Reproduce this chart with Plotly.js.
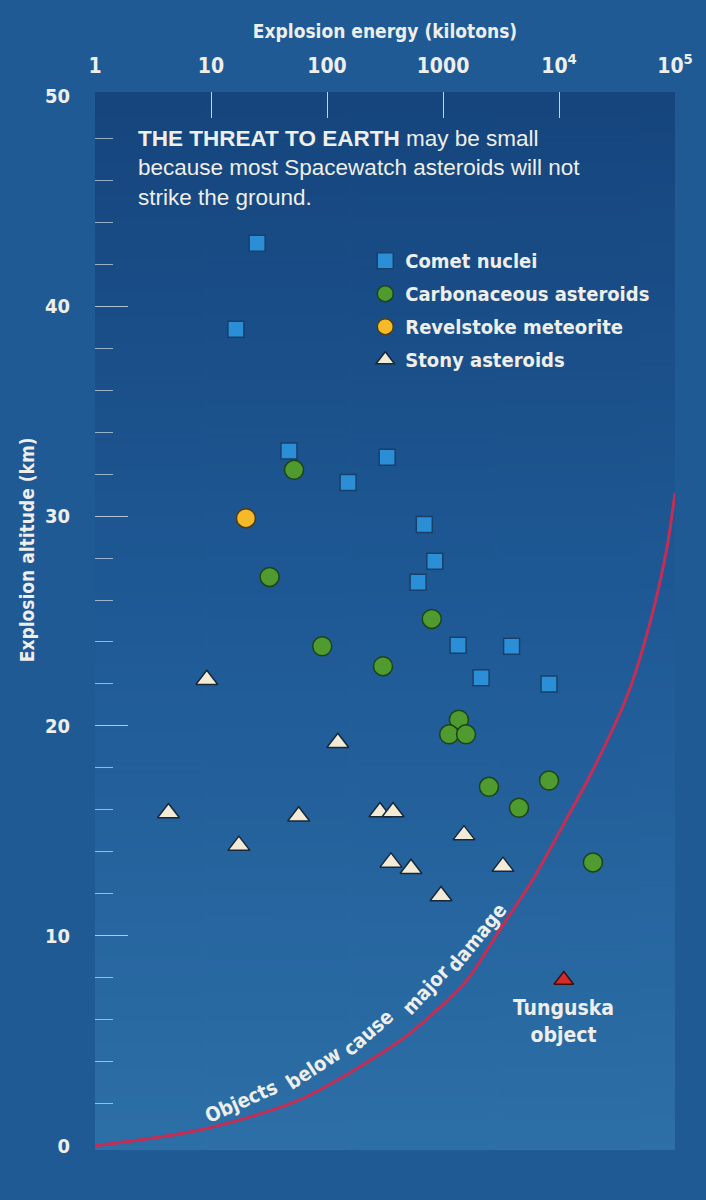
<!DOCTYPE html>
<html>
<head>
<meta charset="utf-8">
<script src="https://cdn.plot.ly/plotly-3.0.1.min.js"></script>
<style>html,body{margin:0;padding:0;background:#1f5a95;}#chart{width:706px;height:1200px;}</style>
</head>
<body>
<div id="chart"></div>
<script>
// ---- Data ----
const cometEnergy = [25, 16.4, 47, 330, 152, 690, 850, 610, 1350, 3900, 2130, 8200];
const cometAlt    = [43.0, 38.9, 33.1, 32.8, 31.6, 29.6, 27.85, 26.85, 23.85, 23.8, 22.3, 22.0];

const carbEnergy = [52, 32, 91, 304, 800, 1370, 1130, 1580, 2490, 4520, 8200, 19600];
const carbAlt    = [32.2, 27.1, 23.8, 22.85, 25.1, 20.3, 19.6, 19.6, 17.1, 16.1, 17.4, 13.5];

const revelEnergy = [20];
const revelAlt    = [29.9];

const stonyEnergy = [9.2, 124, 4.3, 57, 17.4, 286, 371, 356, 530, 961, 1517, 3290];
const stonyAlt    = [22.2, 19.2, 15.85, 15.7, 14.3, 15.9, 15.9, 13.5, 13.2, 11.9, 14.8, 13.3];

const tunguskaEnergy = [11000];
const tunguskaAlt    = [7.9];

const damageEnergy = [1, 8.0, 58.5, 426, 820, 1610, 3100, 5970, 11700, 19600, 38500, 60800, 85300, 100000];
const damageAlt    = [0, 0.75, 2.2, 5.0, 6.3, 7.9, 10.3, 12.7, 15.6, 17.9, 21.4, 24.9, 28.5, 31.1];

const xTickVals = [1, 10, 100, 1000, 10000, 100000];
const xTickText = ['1', '10', '100', '1000', '10<sup>4</sup>', '10<sup>5</sup>'];
const yTickVals = [0, 10, 20, 30, 40, 50];

const curveWords = ['Objects', 'below', 'cause', 'major', 'damage'];
const curveWordEnergy = [18.5, 76, 230, 710, 1960];
const curveWordAlt = [2.12, 3.72, 5.4, 7.4, 9.95];
const curveWordAngle = [-24, -33, -41, -47, -51];

// ---- Styling ----
const NARROW = '"DejaVu Sans Condensed", "Liberation Sans Narrow", sans-serif';
const SANS = '"Liberation Sans", Arial, sans-serif';
const TXT = '#eeeeea';

// gradient background for the plot area
const cv = document.createElement('canvas');
cv.width = 8; cv.height = 512;
const ctx = cv.getContext('2d');
const g = ctx.createLinearGradient(0, 0, 0, 512);
g.addColorStop(0, '#16457d');
g.addColorStop(0.5, '#1f5a96');
g.addColorStop(1, '#2d6fa7');
ctx.fillStyle = g; ctx.fillRect(0, 0, 8, 512);
const gradURL = cv.toDataURL('image/png');

const traces = [
  {x: damageEnergy, y: damageAlt, type: 'scatter', mode: 'lines', line: {color: '#c42e55', width: 3, shape: 'spline', smoothing: 0.8}, showlegend: false, hoverinfo: 'skip'},
  {x: cometEnergy, y: cometAlt, type: 'scatter', mode: 'markers', name: 'Comet nuclei', legendgroup: 'a',
   marker: {symbol: 'square', size: 16, color: '#2b8fd8', line: {color: '#17406a', width: 1.5}}},
  {x: carbEnergy, y: carbAlt, type: 'scatter', mode: 'markers', name: 'Carbonaceous asteroids', legendgroup: 'b',
   marker: {symbol: 'circle', size: 19, color: '#4f9b2f', line: {color: '#1c4418', width: 1.5}}},
  {x: revelEnergy, y: revelAlt, type: 'scatter', mode: 'markers', name: 'Revelstoke meteorite', legendgroup: 'c',
   marker: {symbol: 'circle', size: 19, color: '#f6b928', line: {color: '#4d3d10', width: 1.5}}},
  {x: stonyEnergy, y: stonyAlt, type: 'scatter', mode: 'markers', name: 'Stony asteroids', legendgroup: 'd',
   marker: {symbol: 'triangle-up', size: 19, color: '#f3ebd6', line: {color: '#17283a', width: 1.5}}},
  {x: tunguskaEnergy, y: tunguskaAlt, type: 'scatter', mode: 'markers', name: 'Tunguska object', showlegend: false,
   marker: {symbol: 'triangle-up', size: 17, color: '#d42b2b', line: {color: '#3a1010', width: 1.5}}},
  {x: [1], y: [0], xaxis: 'x2', yaxis: 'y2', type: 'scatter', mode: 'markers', marker: {opacity: 0}, showlegend: false, hoverinfo: 'skip'}
];

const minorY = [];
for (let v = 2; v < 50; v += 2) { if (v % 10 !== 0) minorY.push(v); }

const annotations = [
  {xref: 'paper', yref: 'paper', x: 0.071, y: 0.9694, xanchor: 'left', yanchor: 'top', align: 'left', showarrow: false,
   text: '<b>THE THREAT TO EARTH</b> may be small<br>because most Spacewatch asteroids will not<br>strike the ground.',
   font: {family: SANS, size: 22.5, color: TXT}},
  {xref: 'paper', yref: 'paper', x: -0.117, y: 0.567, xanchor: 'center', yanchor: 'middle', textangle: -90, showarrow: false,
   text: 'Explosion altitude (km)', font: {family: NARROW, size: 19, color: TXT, weight: 'bold'}},
  {xref: 'x', yref: 'y', x: Math.log10(tunguskaEnergy[0]), y: tunguskaAlt[0], yanchor: 'top', yshift: -14, showarrow: false,
   text: 'Tunguska<br>object', font: {family: NARROW, size: 21, color: TXT, weight: 'bold'}}
];
curveWords.forEach((w, i) => {
  annotations.push({xref: 'x', yref: 'y', x: Math.log10(curveWordEnergy[i]), y: curveWordAlt[i], showarrow: false,
    xanchor: 'center', yanchor: 'middle',
    text: w, textangle: curveWordAngle[i], font: {family: NARROW, size: 20, color: TXT, weight: 'bold'}});
});

const layout = {
  width: 706, height: 1200,
  margin: {l: 95, r: 31, t: 92, b: 50},
  paper_bgcolor: '#1f5a95',
  plot_bgcolor: 'rgba(0,0,0,0)',
  images: [{source: gradURL, xref: 'paper', yref: 'paper', x: 0, y: 1, sizex: 1, sizey: 1,
            sizing: 'stretch', layer: 'below', xanchor: 'left', yanchor: 'top'}],
  xaxis: {type: 'log', range: [0, 5], side: 'top', tickvals: xTickVals, ticktext: xTickText, ticks: '',
          showgrid: false, zeroline: false, showline: false, ticklabelstandoff: 14,
          tickfont: {family: NARROW, size: 21, color: TXT, weight: 'bold'},
          title: {text: 'Explosion energy (kilotons)', standoff: 6, font: {family: NARROW, size: 19, color: TXT, weight: 'bold'}}},
  xaxis2: {type: 'log', range: [0, 5], side: 'top', overlaying: 'x', tickvals: [10, 100, 1000, 10000],
           ticks: 'inside', ticklen: 26, tickwidth: 1, tickcolor: 'rgba(255,255,255,0.75)', showticklabels: false,
           showgrid: false, zeroline: false, showline: false},
  yaxis: {range: [-0.2, 50.2], tickvals: yTickVals, ticks: '', showgrid: false, zeroline: false, showline: false,
          ticklabelstandoff: 24, tickfont: {family: NARROW, size: 20, color: TXT, weight: 'bold'}},
  yaxis2: {range: [-0.2, 50.2], overlaying: 'y', side: 'left', tickvals: [10, 20, 30, 40], ticks: 'inside', ticklen: 33,
           tickwidth: 1, tickcolor: 'rgba(255,255,255,0.65)', showticklabels: false, showgrid: false, zeroline: false, showline: false,
           minor: {tickvals: minorY, ticks: 'inside', ticklen: 18, tickwidth: 1, tickcolor: 'rgba(255,255,255,0.55)'}},
  showlegend: true,
  legend: {x: 0.466, y: 0.859, xanchor: 'left', yanchor: 'top', bgcolor: 'rgba(0,0,0,0)', borderwidth: 0,
           traceorder: 'grouped', tracegroupgap: 4,
           font: {family: NARROW, size: 20, color: TXT, weight: 'bold'}},
  annotations: annotations
};

Plotly.newPlot('chart', traces, layout, {staticPlot: true, displayModeBar: false});
</script>
</body>
</html>
